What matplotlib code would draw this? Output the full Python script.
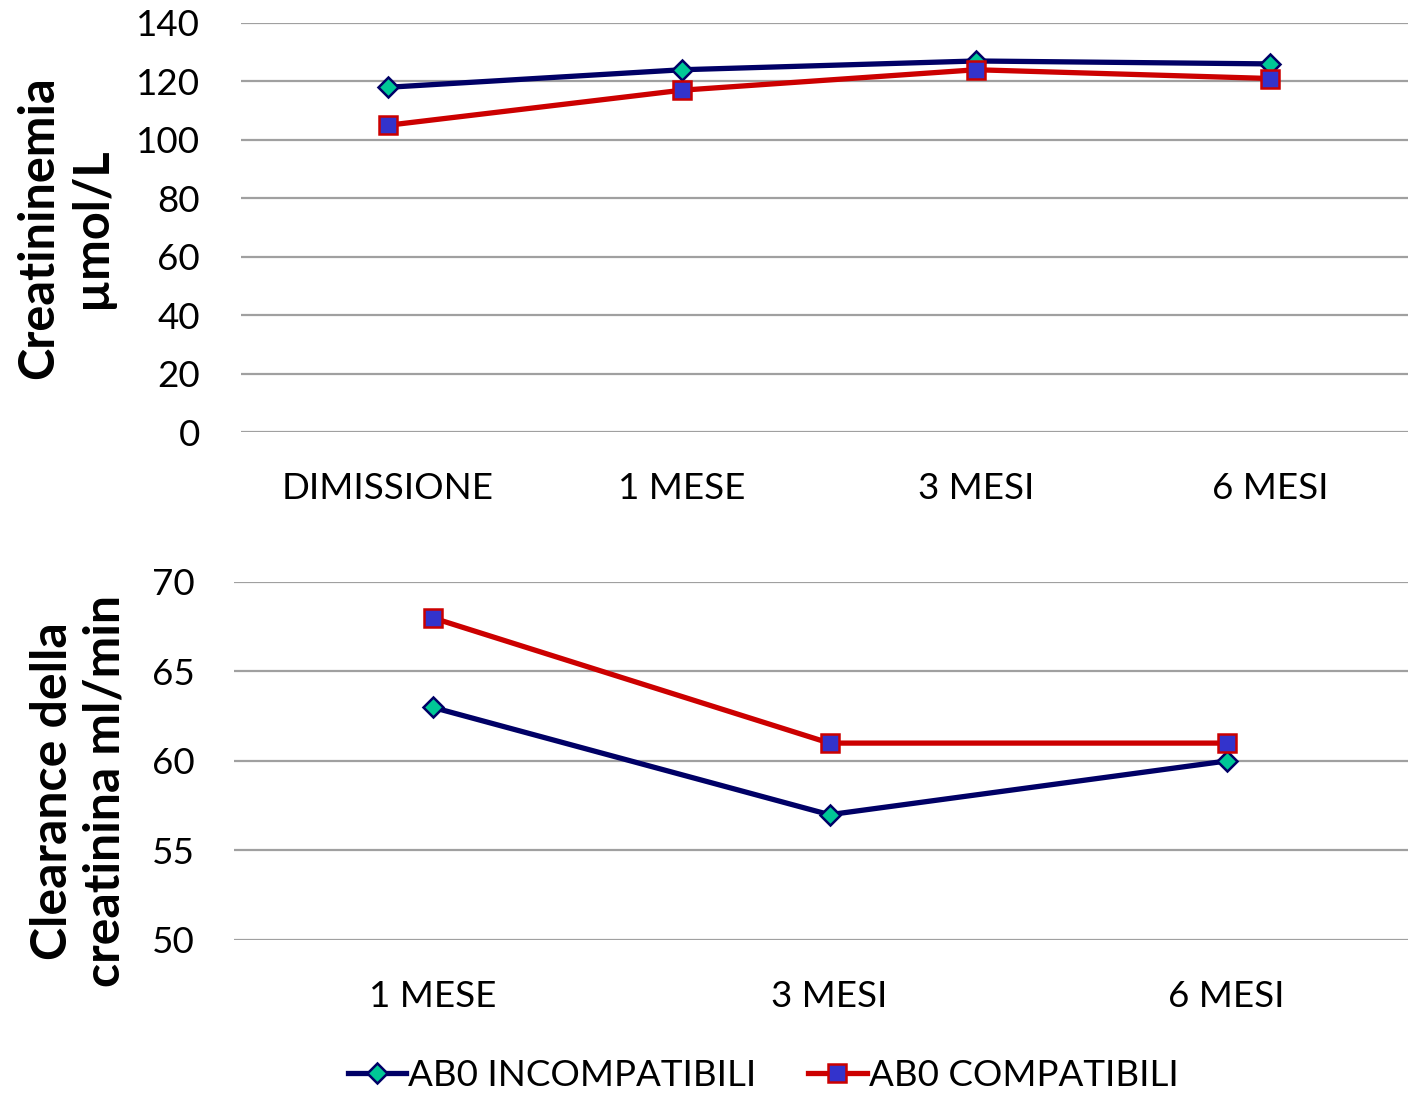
import matplotlib
matplotlib.use("Agg")
import matplotlib.pyplot as plt
from matplotlib.lines import Line2D

plt.rcParams['font.family'] = ['Lato', 'DejaVu Sans']

cat_top = ["DIMISSIONE", "1 MESE", "3 MESI", "6 MESI"]
incomp_top = [118, 124, 127, 126]
comp_top = [105, 117, 124, 121]

cat_bot = ["1 MESE", "3 MESI", "6 MESI"]
incomp_bot = [63, 57, 60]
comp_bot = [68, 61, 61]

series_names = ["AB0 INCOMPATIBILI", "AB0 COMPATIBILI"]

W, H = 1408, 1093
fig = plt.figure(figsize=(W / 100, H / 100), dpi=100)

navy = "#000066"
teal = "#00C896"
red = "#CC0000"
blue = "#3333CC"

def style(ax, ypad):
    for s in ax.spines.values():
        s.set_visible(False)
    ax.tick_params(axis='both', length=0, labelsize=26.5, colors='black')
    ax.tick_params(axis='y', pad=ypad)
    ax.tick_params(axis='x', pad=29)
    ax.yaxis.grid(True, color="#a0a0a0", linewidth=1.6)
    ax.set_axisbelow(True)

def plot(ax, cats, a, b):
    x = list(range(len(cats)))
    ax.plot(x, a, color=navy, lw=3.8, marker='D', ms=10, mfc=teal, mec=navy, mew=1.8, zorder=3)
    ax.plot(x, b, color=red, lw=3.8, marker='s', ms=13, mfc=blue, mec=red, mew=1.8, zorder=4)
    ax.set_xticks(x)
    ax.set_xticklabels(cats)

# top axes
l1, r1, t1, b1 = 241, 1408, 23, 432
ax1 = fig.add_axes([l1 / W, 1 - b1 / H, (r1 - l1) / W, (b1 - t1) / H])
style(ax1, 29.5)
plot(ax1, cat_top, incomp_top, comp_top)
ax1.set_ylim(0, 140)
ax1.set_yticks(range(0, 141, 20))
ax1.set_xlim(-0.5, (r1 - l1) / 294 - 0.5)
ax1.set_ylabel("Creatininemia\nµmol/L", fontsize=35, fontweight='bold', labelpad=16, linespacing=1.2)

# bottom axes
l2, r2, t2, b2 = 234, 1408, 582, 940
ax2 = fig.add_axes([l2 / W, 1 - b2 / H, (r2 - l2) / W, (b2 - t2) / H])
style(ax2, 28)
plot(ax2, cat_bot, incomp_bot, comp_bot)
ax2.set_ylim(50, 70)
ax2.set_yticks(range(50, 71, 5))
ax2.set_xlim(-0.5, (r2 - l2) / 397 - 0.5)
ax2.set_ylabel("Clearance della\ncreatinina ml/min", fontsize=36, fontweight='bold', linespacing=1.2)
ax2.yaxis.set_label_coords(-0.091, 0.416)

handles = [
    Line2D([], [], color=navy, lw=3.8, marker='D', ms=10, mfc=teal, mec=navy, mew=1.8),
    Line2D([], [], color=red, lw=3.8, marker='s', ms=13, mfc=blue, mec=red, mew=1.8),
]
fig.legend(handles, series_names, loc='center', bbox_to_anchor=(763 / W, 1 - 1075 / H),
           ncol=2, frameon=False, fontsize=26.5, handlelength=1.6, handletextpad=0.05,
           columnspacing=1.4)

fig.savefig("out.png", dpi=100)
